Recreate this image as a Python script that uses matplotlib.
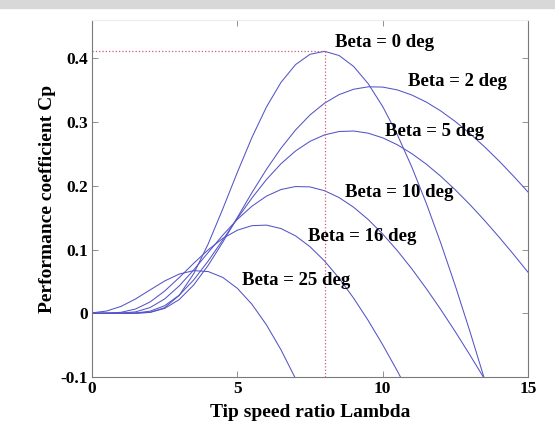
import numpy as np
import matplotlib
matplotlib.use("Agg")
import matplotlib.pyplot as plt
from matplotlib.patches import Rectangle

# Tip speed ratio grid (read every 0.5)
lam = [0, 0.5, 1, 1.5, 2, 2.5, 3, 3.5, 4, 4.5, 5, 5.5, 6, 6.5, 7, 7.5,
       8, 8.5, 9, 9.5, 10, 10.5, 11, 11.5, 12, 12.5, 13, 13.5, 14, 14.5, 15]

# Cp values (curves leave the axes below -0.1)
cp_b0 = [0, 0, 0, 0.0001, 0.0014, 0.0088, 0.0281, 0.0622, 0.1091, 0.1639,
         0.2211, 0.2756, 0.3235, 0.3621, 0.3900, 0.4062, 0.4109, 0.4043,
         0.3872, 0.3602, 0.3243, 0.2805, 0.2296, 0.1725, 0.1099, 0.0428,
         -0.0284, -0.1029, -0.1802]
cp_b2 = [0, 0, 0, 0.0001, 0.0015, 0.0076, 0.0215, 0.0445, 0.0754, 0.1116,
         0.1504, 0.1891, 0.2257, 0.2588, 0.2874, 0.3111, 0.3296, 0.3430,
         0.3514, 0.3552, 0.3548, 0.3504, 0.3424, 0.3313, 0.3173, 0.3007,
         0.2820, 0.2613, 0.2390, 0.2152, 0.1902]
cp_b5 = [0, 0, 0, 0.0004, 0.0033, 0.0119, 0.0283, 0.0524, 0.0822, 0.1152,
         0.1487, 0.1807, 0.2097, 0.2345, 0.2545, 0.2697, 0.2798, 0.2851,
         0.2859, 0.2825, 0.2752, 0.2644, 0.2505, 0.2339, 0.2148, 0.1935,
         0.1705, 0.1458, 0.1197, 0.0925, 0.0643]
cp_b10 = [0, 0, 0.0002, 0.0022, 0.0090, 0.0225, 0.0429, 0.0681, 0.0955,
          0.1226, 0.1473, 0.1679, 0.1837, 0.1941, 0.1988, 0.1982, 0.1922,
          0.1815, 0.1663, 0.1471, 0.1243, 0.0984, 0.0698, 0.0387, 0.0057,
          -0.0291, -0.0654, -0.1028]
cp_b16 = [0, 0.0001, 0.0015, 0.0067, 0.0178, 0.0349, 0.0560, 0.0785, 0.0997,
          0.1174, 0.1303, 0.1374, 0.1383, 0.1329, 0.1215, 0.1044, 0.0820,
          0.0550, 0.0237, -0.0112, -0.0494, -0.0903, -0.1335]
cp_b25 = [0.0006, 0.0035, 0.0108, 0.0225, 0.0367, 0.0507, 0.0615, 0.0669,
          0.0654, 0.0562, 0.0391, 0.0142, -0.0181, -0.0572, -0.1024, -0.1529]

curves = [cp_b0, cp_b2, cp_b5, cp_b10, cp_b16, cp_b25]

labels = ['Beta = 0 deg', 'Beta = 2 deg', 'Beta = 5 deg',
          'Beta = 10 deg', 'Beta = 16 deg', 'Beta = 25 deg']
label_x = [8.35, 10.86, 10.07, 8.69, 7.42, 5.15]
label_y = [0.425, 0.364, 0.285, 0.189, 0.120, 0.052]

xticks = [0, 5, 10, 15]
yticks = [-0.1, 0, 0.1, 0.2, 0.3, 0.4]
ytick_labels = ['-0.1', '0', '0.1', '0.2', '0.3', '0.4']

plt.rcParams['font.family'] = ['Liberation Serif', 'DejaVu Serif']

fig = plt.figure(figsize=(5.55, 4.25), dpi=100)
# grey strip along the top of the scanned picture
fig.patches.append(Rectangle((0, 0.982), 1, 0.018, transform=fig.transFigure,
                             color='#d8d8d8', zorder=0))
ax = fig.add_axes([0.1658, 0.1129, 0.7856, 0.84])

for cp in curves:
    ax.plot(lam[:len(cp)], cp, color=(0.33, 0.33, 0.78), lw=0.75)

# optimum point of the beta = 0 curve
i_max = int(np.argmax(cp_b0))
ax.plot([0, lam[i_max]], [cp_b0[i_max], cp_b0[i_max]], ':',
        color='#d05a70', lw=0.9)
ax.plot([lam[i_max], lam[i_max]], [-0.1, cp_b0[i_max]], ':',
        color='#d05a70', lw=0.9)

for t, x, y in zip(labels, label_x, label_y):
    ax.text(x, y, t, fontsize=13.5, fontweight='bold', ha='left', va='center')

ax.set_xlim(0, 15)
ax.set_ylim(-0.1, 0.46)
ax.set_xticks(xticks)
ax.set_yticks(yticks)
ax.set_yticklabels(ytick_labels)
ax.tick_params(direction='in', length=4, width=0.6, color='#808080',
               top=True, right=True, labelsize=12.5, pad=3)
for lab in ax.get_xticklabels() + ax.get_yticklabels():
    lab.set_fontweight('bold')
for s in ['left', 'bottom', 'right']:
    ax.spines[s].set_color('#7a7a7a')
    ax.spines[s].set_linewidth(0.8)
ax.spines['top'].set_color('#ececec')

ax.set_xlabel('Tip speed ratio Lambda', fontsize=14, fontweight='bold',
              labelpad=5)
ax.set_ylabel('Performance coefficient Cp', fontsize=14, fontweight='bold',
              labelpad=3)

fig.savefig('out.png', dpi=100)
